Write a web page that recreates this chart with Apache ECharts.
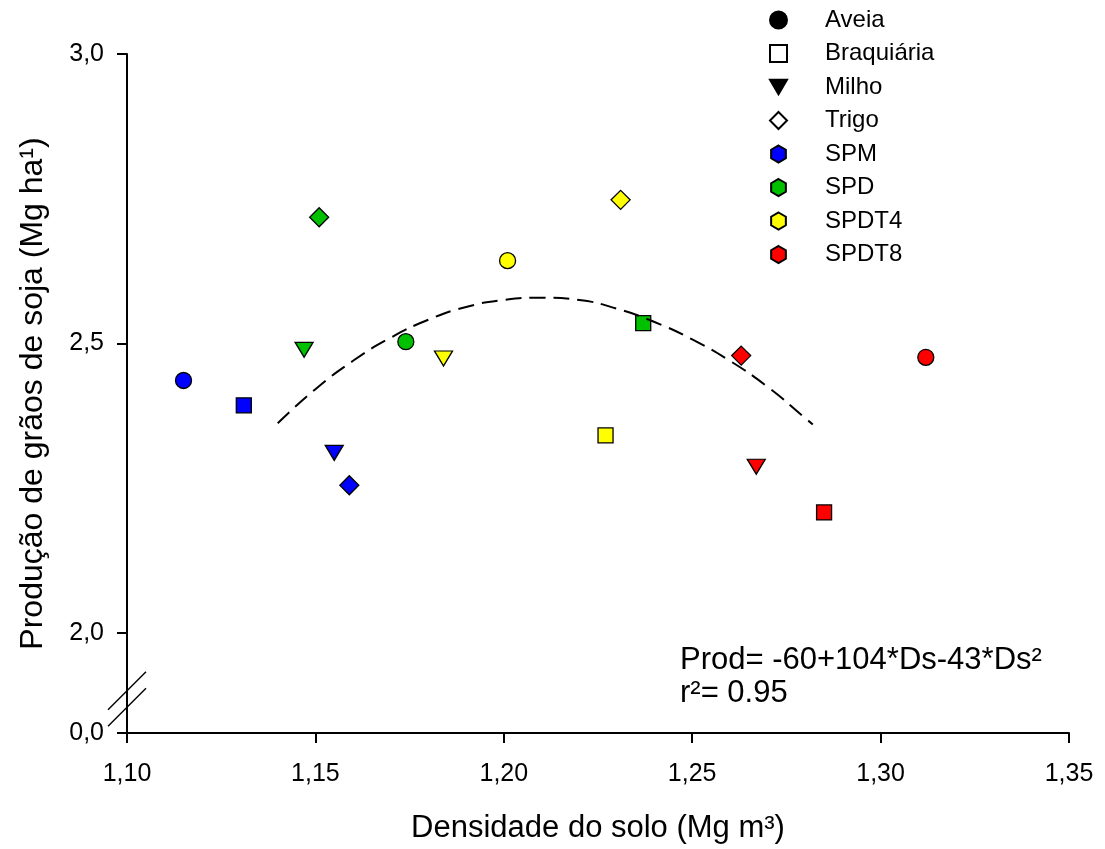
<!DOCTYPE html>
<html><head><meta charset="utf-8">
<script src="https://cdn.jsdelivr.net/npm/echarts@6/dist/echarts.min.js"></script>
<style>html,body{margin:0;padding:0;background:#fff}#c{width:1105px;height:849px}</style>
</head><body><div id="c"></div>
<script>
// Categories
const crops = ['Aveia', 'Braquiária', 'Milho', 'Trigo'];
const systems = ['SPM', 'SPD', 'SPDT4', 'SPDT8'];

// Values per system, in crop order: Aveia, Braquiária, Milho, Trigo
const spmDensity   = [1.115, 1.131, 1.155, 1.159];
const spmYield     = [2.436, 2.393, 2.311, 2.255];
const spdDensity   = [1.174, 1.237, 1.147, 1.151];
const spdYield     = [2.503, 2.535, 2.489, 2.718];
const spdt4Density = [1.201, 1.227, 1.184, 1.231];
const spdt4Yield   = [2.643, 2.341, 2.474, 2.748];
const spdt8Density = [1.312, 1.285, 1.267, 1.263];
const spdt8Yield   = [2.476, 2.208, 2.287, 2.479];

// Fitted curve
const fitDensity = [1.140, 1.150, 1.160, 1.170, 1.180, 1.190, 1.200, 1.210, 1.220, 1.230, 1.240, 1.250, 1.260, 1.270, 1.280, 1.282];
const fitYield   = [2.362, 2.421, 2.470, 2.510, 2.541, 2.563, 2.575, 2.579, 2.575, 2.560, 2.537, 2.507, 2.470, 2.425, 2.371, 2.360];

// Axis ticks
const xTicks = [1.10, 1.15, 1.20, 1.25, 1.30, 1.35];
const yTickValues = [1.827, 2.0, 2.5, 3.0];
const yTickLabels = ['0,0', '2,0', '2,5', '3,0'];

const equationText = 'Prod= -60+104*Ds-43*Ds²';
const r2Text = 'r²= 0.95';

// Styles
const FONT = '"Liberation Sans", Arial, sans-serif';
const systemColors = ['#0000ff', '#00c000', '#ffff00', '#ff0000'];
const hexagon = 'path://M0,-10 L8.66,-5 L8.66,5 L0,10 L-8.66,5 L-8.66,-5 Z';
const triDown = 'path://M0,0 L20,0 L10,17 Z';
const cropSymbols = ['circle', 'rect', triDown, 'diamond'];
const cropSizes = [16, 15, [18, 15], 19];
const cropLegendFill = ['#000000', '#ffffff', '#000000', '#ffffff'];

const systemDensity = [spmDensity, spdDensity, spdt4Density, spdt8Density];
const systemYield = [spmYield, spdYield, spdt4Yield, spdt8Yield];

const series = [];
crops.forEach((c, i) => {
  series.push({
    type: 'scatter', name: c, data: [],
    symbol: cropSymbols[i], symbolSize: cropSizes[i],
    itemStyle: { color: cropLegendFill[i], borderColor: '#000', borderWidth: 1.5, opacity: 1 }
  });
});
systems.forEach((s, k) => {
  series.push({
    type: 'scatter', name: s,
    symbol: hexagon, symbolSize: [15, 17],
    itemStyle: { color: systemColors[k], borderColor: '#000', borderWidth: 1.3, opacity: 1 },
    data: systemDensity[k].map((d, i) => ({
      value: [d, systemYield[k][i]],
      symbol: cropSymbols[i],
      symbolSize: cropSizes[i]
    })),
    z: 3
  });
});
series.push({
  type: 'line', name: 'fit', data: fitDensity.map((d, i) => [d, fitYield[i]]),
  smooth: true, showSymbol: false, symbol: 'none',
  lineStyle: { color: '#000', width: 2, type: [16, 8] },
  z: 4, silent: true
});

const chart = echarts.init(document.getElementById('c'), null, { renderer: 'canvas' });
const option = {
  backgroundColor: '#fff',
  animation: false,
  textStyle: { fontFamily: FONT, color: '#000' },
  grid: { left: 127, right: 36, top: 54, bottom: 115, containLabel: false },
  legend: {
    orient: 'vertical', left: 764, top: 3,
    itemWidth: 17, itemHeight: 17, itemGap: 9.5,
    data: crops.concat(systems),
    textStyle: { fontFamily: FONT, fontSize: 24, color: '#000', lineHeight: 24, padding: [0, 0, 0, 33] },
    selectedMode: false
  },
  xAxis: {
    type: 'value', min: 1.10, max: 1.35, interval: 0.05,
    name: 'Densidade do solo (Mg m³)', nameLocation: 'middle', nameGap: 80,
    nameTextStyle: { fontFamily: FONT, fontSize: 31, color: '#000' },
    axisLine: { show: true, onZero: false, lineStyle: { color: '#000', width: 2 } },
    axisTick: { show: true, inside: false, length: 10, lineStyle: { color: '#000', width: 2 } },
    axisLabel: { fontFamily: FONT, fontSize: 25, color: '#000', margin: 29,
      formatter: v => v.toFixed(2).replace('.', ',') },
    splitLine: { show: false }
  },
  yAxis: {
    type: 'value', min: yTickValues[0], max: 3.0,
    name: 'Produção de grãos de soja (Mg ha¹)', nameLocation: 'middle', nameGap: 78,
    nameTextStyle: { fontFamily: FONT, fontSize: 32, color: '#000' },
    axisLine: { show: true, onZero: false, lineStyle: { color: '#000', width: 2 } },
    axisTick: { show: true, length: 10, lineStyle: { color: '#000', width: 2 }, customValues: yTickValues },
    axisLabel: { fontFamily: FONT, fontSize: 25, color: '#000', margin: 23, customValues: yTickValues,
      formatter: v => {
        let best = 0;
        yTickValues.forEach((t, i) => { if (Math.abs(t - v) < Math.abs(yTickValues[best] - v)) best = i; });
        return yTickLabels[best];
      } },
    splitLine: { show: false }
  },
  series: series
};
chart.setOption(option);

// Axis break marks and equation text
const origin = chart.convertToPixel({ xAxisIndex: 0, yAxisIndex: 0 }, [xTicks[0], yTickValues[0]]);
const ox = origin[0], oy = origin[1];
chart.setOption({
  graphic: [
    { type: 'line', shape: { x1: ox - 19, y1: oy - 23.3, x2: ox + 19, y2: oy - 61.3 }, style: { stroke: '#000', lineWidth: 1.5 } },
    { type: 'line', shape: { x1: ox - 19, y1: oy - 6.7, x2: ox + 19, y2: oy - 44.7 }, style: { stroke: '#000', lineWidth: 1.5 } },
    { type: 'text', left: 680, top: 644, style: { text: equationText + '\n' + r2Text, fontFamily: FONT, fontSize: 31, lineHeight: 33, fill: '#000' } }
  ]
});
</script>
</body></html>
